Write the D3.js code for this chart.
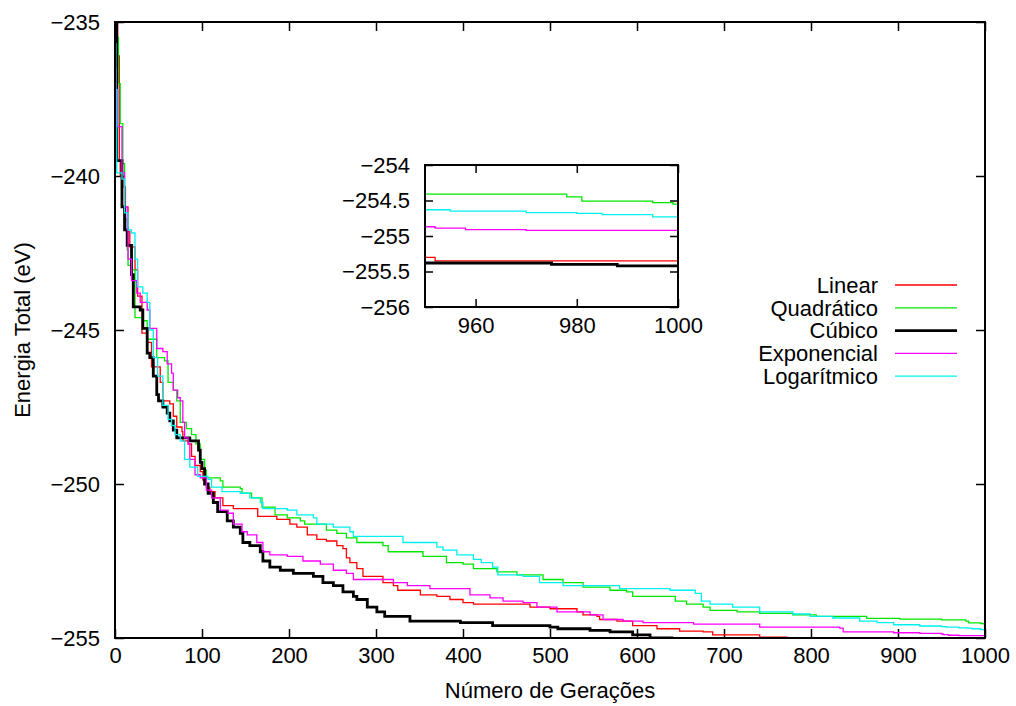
<!DOCTYPE html>
<html>
<head>
<meta charset="utf-8">
<script src="https://cdn.jsdelivr.net/npm/d3@7"></script>
<style>
  body { margin: 0; background: #fff; }
  text { font-family: "Liberation Sans", Arial, Helvetica, sans-serif; fill: #000; }
  .axis text { font-size: 22px; }
  .axis path, .axis line { stroke: #000; stroke-width: 1.5px; }
</style>
</head>
<body>
<svg id="chart" width="1016" height="706"></svg>
<script>
// [generation, total energy (eV)]
var linearPts = [[0,-234.5],[3,-236.1],[5,-239.5],[6,-240],[9,-240.35],[12,-241],[15,-241.8],[17,-242.3],[23,-243.05],[26,-243.9],[31,-245.1],[37,-245.4],[42,-246.2],[52,-246.7],[55,-247.3],[63,-247.4],[67,-247.8],[71,-248.15],[77,-248.3],[78,-248.6],[84,-248.7],[88,-249.1],[92,-249.4],[98,-249.6],[101,-249.87],[105,-250.1],[109,-250.25],[115,-250.45],[124,-250.7],[136,-250.8],[164,-251.05],[186,-251.15],[201,-251.3],[209,-251.4],[221,-251.65],[232,-251.8],[243,-251.85],[255,-252],[262,-252.1],[266,-252.4],[270,-252.55],[278,-252.75],[285,-253],[308,-253.2],[320,-253.3],[325,-253.45],[351,-253.6],[370,-253.65],[385,-253.75],[400,-253.85],[412,-253.9],[477,-254],[500,-254.05],[531,-254.15],[538,-254.25],[554,-254.3],[557,-254.4],[577,-254.45],[595,-254.6],[623,-254.7],[649,-254.78],[676,-254.8],[687,-254.9],[741,-254.97],[772,-255],[820,-255.1],[880,-255.2],[920,-255.27],[950,-255.3],[952,-255.35],[1000,-255.38]];

var quadPts = [[0,-235.5],[4,-237],[6,-238.3],[9,-239.6],[11,-241.4],[14,-242.4],[15,-242.9],[19,-243.05],[23,-244.6],[31,-244.7],[37,-245.3],[48,-245.9],[57,-246],[61,-246.7],[67,-246.95],[71,-247.3],[75,-248],[82,-248.2],[88,-248.4],[93,-248.7],[98,-249.2],[103,-249.55],[105,-249.8],[121,-249.9],[124,-250.1],[144,-250.15],[146,-250.3],[157,-250.45],[169,-250.75],[184,-251],[198,-251.1],[213,-251.2],[218,-251.3],[243,-251.5],[255,-251.6],[266,-251.75],[278,-251.9],[308,-252],[314,-252.2],[354,-252.35],[381,-252.55],[400,-252.6],[412,-252.75],[439,-252.85],[462,-252.95],[492,-253.1],[515,-253.2],[538,-253.35],[569,-253.45],[588,-253.5],[595,-253.65],[644,-253.8],[657,-253.9],[676,-254],[684,-254.1],[715,-254.15],[741,-254.2],[779,-254.25],[806,-254.3],[864,-254.36],[902,-254.39],[950,-254.41],[976,-254.41],[978,-254.45],[981,-254.51],[995,-254.53],[999,-254.55],[1000,-254.55]];

var cubicPts = [[0,-233],[2,-239.5],[8,-241],[11,-241.75],[14,-242.25],[19,-243.2],[21,-244.25],[29,-244.35],[32,-244.95],[37,-245.75],[40,-245.9],[44,-246.5],[48,-247.1],[50,-247.3],[55,-247.5],[60,-247.7],[63,-247.95],[67,-248.25],[71,-248.5],[86,-248.6],[96,-248.9],[98,-249.3],[100,-249.5],[103,-250],[107,-250.3],[113,-250.6],[118,-250.9],[129,-251.2],[136,-251.4],[144,-251.6],[147,-251.9],[155,-252],[167,-252.2],[170,-252.5],[178,-252.7],[190,-252.8],[205,-252.9],[228,-253],[239,-253.2],[251,-253.3],[262,-253.5],[274,-253.65],[278,-253.75],[290,-254],[301,-254.15],[310,-254.3],[339,-254.45],[397,-254.5],[434,-254.6],[500,-254.65],[509,-254.7],[546,-254.75],[569,-254.8],[595,-254.9],[615,-255],[640,-255.1],[700,-255.2],[800,-255.3],[900,-255.36],[950,-255.38],[975,-255.4],[988,-255.42],[1000,-255.42]];

var expPts = [[0,-236.5],[1,-237.2],[3,-238.4],[8,-239.9],[11,-241],[14,-241.75],[15,-242.7],[19,-243.4],[25,-243.8],[29,-244.1],[37,-244.35],[40,-244.95],[48,-245.6],[55,-245.7],[60,-246.1],[65,-246.4],[67,-246.95],[72,-247.2],[75,-247.3],[78,-248],[80,-248.5],[84,-248.7],[86,-249.2],[92,-249.7],[98,-249.8],[105,-250.2],[111,-250.45],[121,-250.85],[130,-250.95],[136,-251.3],[146,-251.55],[152,-251.65],[163,-251.9],[170,-252.2],[178,-252.3],[198,-252.35],[216,-252.5],[236,-252.6],[251,-252.8],[266,-252.9],[274,-253.1],[320,-253.2],[336,-253.3],[362,-253.4],[408,-253.6],[431,-253.7],[446,-253.8],[469,-253.85],[485,-254],[508,-254.15],[546,-254.25],[561,-254.4],[584,-254.45],[607,-254.5],[665,-254.55],[741,-254.65],[833,-254.68],[837,-254.8],[895,-254.83],[925,-254.85],[950,-254.87],[952,-254.89],[958,-254.91],[970,-254.92],[1000,-254.92]];

var logPts = [[0,-235.7],[1,-237.2],[2,-239.9],[8,-240.1],[11,-241.2],[15,-241.75],[19,-241.85],[23,-242.7],[26,-243.6],[32,-243.8],[37,-244.1],[40,-245],[44,-245.9],[49,-246.5],[55,-247.45],[61,-247.9],[65,-248.1],[69,-248.4],[75,-248.6],[80,-249.2],[86,-249.45],[95,-249.75],[107,-249.85],[111,-250.1],[123,-250.25],[144,-250.3],[155,-250.45],[167,-250.6],[170,-250.8],[198,-250.85],[209,-251],[228,-251.1],[232,-251.3],[251,-251.4],[270,-251.55],[274,-251.7],[331,-251.9],[370,-252.05],[377,-252.15],[393,-252.3],[412,-252.45],[421,-252.55],[434,-252.7],[440,-252.95],[469,-253],[488,-253.2],[515,-253.3],[580,-253.4],[638,-253.45],[667,-253.55],[674,-253.8],[684,-253.9],[710,-254],[741,-254.15],[779,-254.22],[799,-254.3],[825,-254.35],[856,-254.45],[876,-254.5],[895,-254.57],[925,-254.61],[950,-254.63],[955,-254.65],[970,-254.67],[980,-254.68],[985,-254.7],[995,-254.73],[1000,-254.73]];

var seriesNames = ["Linear", "Quadrático", "Cúbico", "Exponencial", "Logarítmico"];
var seriesData = [linearPts, quadPts, cubicPts, expPts, logPts];
var seriesColors = ["#ff0000", "#00e600", "#000000", "#ff00ff", "#00f0f0"];
var seriesWidths = [1.3, 1.3, 2.8, 1.3, 1.3];

var xTicks = [0,100,200,300,400,500,600,700,800,900,1000];
var yTicks = [-235,-240,-245,-250,-255];
var insetXTicks = [960,980,1000];
var insetYTicks = [-254,-254.5,-255,-255.5,-256];

var svg = d3.select("#chart");
svg.append("rect").attr("width", 1016).attr("height", 706).attr("fill", "#fff");

var plot = {left: 115, right: 985, top: 22, bottom: 638};
var x = d3.scaleLinear().domain([0, 1000]).range([plot.left, plot.right]);
var y = d3.scaleLinear().domain([-255, -235]).range([plot.bottom, plot.top]);

var fmt = d3.format("~g");

svg.append("clipPath").attr("id", "clipMain")
  .append("rect")
  .attr("x", plot.left).attr("y", plot.top)
  .attr("width", plot.right - plot.left).attr("height", plot.bottom - plot.top);

// axes (gnuplot style, ticks pointing inward, mirrored)
svg.append("g").attr("class", "axis")
  .attr("transform", "translate(0," + plot.bottom + ")")
  .call(d3.axisBottom(x).tickValues(xTicks).tickSize(-9).tickPadding(9).tickFormat(fmt));
svg.append("g").attr("class", "axis")
  .attr("transform", "translate(0," + plot.top + ")")
  .call(d3.axisTop(x).tickValues(xTicks).tickSize(-9).tickFormat(""));
svg.append("g").attr("class", "axis")
  .attr("transform", "translate(" + plot.left + ",0)")
  .call(d3.axisLeft(y).tickValues(yTicks).tickSize(-9).tickPadding(15).tickFormat(fmt));
svg.append("g").attr("class", "axis")
  .attr("transform", "translate(" + plot.right + ",0)")
  .call(d3.axisRight(y).tickValues(yTicks).tickSize(-9).tickFormat(""));
svg.selectAll(".axis .domain").remove();

var line = d3.line()
  .x(function(d) { return x(d[0]); })
  .y(function(d) { return y(d[1]); })
  .curve(d3.curveStepAfter);

var lines = svg.append("g").attr("clip-path", "url(#clipMain)");
seriesData.forEach(function(pts, i) {
  lines.append("path")
    .attr("d", line(pts))
    .attr("fill", "none")
    .attr("stroke", seriesColors[i])
    .attr("stroke-width", seriesWidths[i])
    .attr("stroke-linejoin", "miter");
});

svg.append("rect")
  .attr("x", plot.left).attr("y", plot.top)
  .attr("width", plot.right - plot.left).attr("height", plot.bottom - plot.top)
  .attr("fill", "none").attr("stroke", "#000").attr("stroke-width", 2);

// axis titles
svg.append("text")
  .attr("x", (plot.left + plot.right) / 2).attr("y", 698)
  .attr("text-anchor", "middle").style("font-size", "22px")
  .text("Número de Gerações");
svg.append("text")
  .attr("transform", "translate(30," + ((plot.top + plot.bottom) / 2) + ") rotate(-90)")
  .attr("text-anchor", "middle").style("font-size", "22px")
  .text("Energia Total (eV)");

// legend
var legend = svg.append("g");
seriesNames.forEach(function(name, i) {
  var ly = 285 + i * 22.8;
  legend.append("text")
    .attr("x", 878).attr("y", ly).attr("dy", "0.35em")
    .attr("text-anchor", "end").style("font-size", "22px")
    .text(name);
  legend.append("line")
    .attr("x1", 895).attr("x2", 957).attr("y1", ly).attr("y2", ly)
    .attr("stroke", seriesColors[i]).attr("stroke-width", seriesWidths[i]);
});

// inset
var inset = {left: 425, right: 678, top: 165, bottom: 307};
var xi = d3.scaleLinear().domain([950, 1000]).range([inset.left, inset.right]);
var yi = d3.scaleLinear().domain([-256, -254]).range([inset.bottom, inset.top]);

svg.append("rect")
  .attr("x", inset.left).attr("y", inset.top)
  .attr("width", inset.right - inset.left).attr("height", inset.bottom - inset.top)
  .attr("fill", "#fff");

svg.append("clipPath").attr("id", "clipInset")
  .append("rect")
  .attr("x", inset.left).attr("y", inset.top)
  .attr("width", inset.right - inset.left).attr("height", inset.bottom - inset.top);

svg.append("g").attr("class", "axis")
  .attr("transform", "translate(0," + inset.bottom + ")")
  .call(d3.axisBottom(xi).tickValues(insetXTicks).tickSize(-8).tickPadding(10).tickFormat(fmt));
svg.append("g").attr("class", "axis")
  .attr("transform", "translate(0," + inset.top + ")")
  .call(d3.axisTop(xi).tickValues(insetXTicks).tickSize(-8).tickFormat(""));
svg.append("g").attr("class", "axis")
  .attr("transform", "translate(" + inset.left + ",0)")
  .call(d3.axisLeft(yi).tickValues(insetYTicks).tickSize(-8).tickPadding(15).tickFormat(fmt));
svg.append("g").attr("class", "axis")
  .attr("transform", "translate(" + inset.right + ",0)")
  .call(d3.axisRight(yi).tickValues(insetYTicks).tickSize(-8).tickFormat(""));
svg.selectAll(".axis .domain").remove();

var lineInset = d3.line()
  .x(function(d) { return xi(d[0]); })
  .y(function(d) { return yi(d[1]); })
  .curve(d3.curveStepAfter);

var insetLines = svg.append("g").attr("clip-path", "url(#clipInset)");
seriesData.forEach(function(pts, i) {
  var sub = pts.filter(function(d) { return d[0] >= 940; });
  insetLines.append("path")
    .attr("d", lineInset(sub))
    .attr("fill", "none")
    .attr("stroke", seriesColors[i])
    .attr("stroke-width", seriesWidths[i]);
});

svg.append("rect")
  .attr("x", inset.left).attr("y", inset.top)
  .attr("width", inset.right - inset.left).attr("height", inset.bottom - inset.top)
  .attr("fill", "none").attr("stroke", "#000").attr("stroke-width", 2);
</script>
</body>
</html>
